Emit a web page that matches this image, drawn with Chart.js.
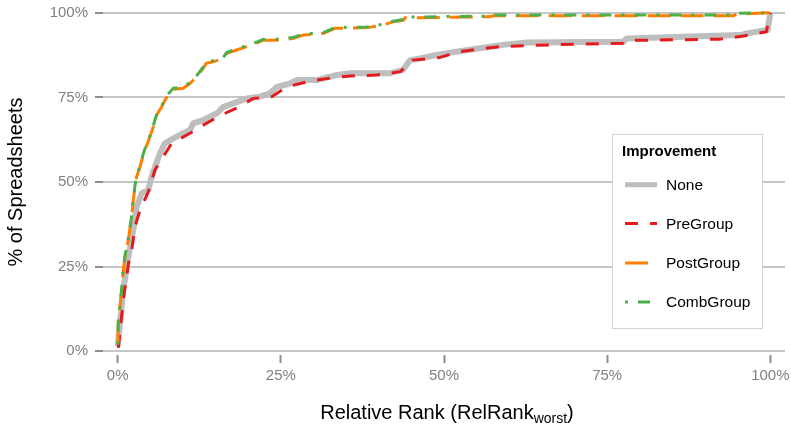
<!DOCTYPE html>
<html><head><meta charset="utf-8">
<script src="https://cdn.jsdelivr.net/npm/chart.js@4.4.1/dist/chart.umd.min.js"></script>
<style>html,body{margin:0;padding:0;background:#fff;}canvas{display:block;}</style>
</head><body>
<canvas id="c" width="791" height="425"></canvas>
<script>
// ---- data (x = relative rank %, y = % of spreadsheets) ----
const seriesNames = ['None', 'PreGroup', 'PostGroup', 'CombGroup'];
const xTicks = [0, 25, 50, 75, 100];
const yTicks = [0, 25, 50, 75, 100];

const noneX = [0, 0.86, 1.62, 2.39, 2.91, 3.68, 4.69, 5.21, 5.72, 6.48, 7.25, 9.04, 11.08, 11.58, 13.1, 15.2, 16.2, 17.7, 19.8, 21.8, 23.3, 24.4, 26.4, 27.4, 30.5, 33.6, 35.6, 41.7, 43.7, 44.8, 46.3, 48.9, 51.9, 55.5, 59.0, 62.7, 77.5, 78.0, 95.4, 96.4, 99.6, 100];
const noneY = [1.4, 18.1, 27.9, 35.8, 42.7, 46.7, 47.6, 51.6, 54.5, 58.5, 61.5, 63.4, 65.4, 67.3, 68.3, 70.3, 72.2, 73.2, 74.7, 75.2, 76.2, 78.1, 79.1, 80.1, 80.1, 81.6, 82.1, 82.1, 83.1, 86.0, 86.5, 87.5, 88.5, 89.5, 90.5, 91.2, 91.4, 92.4, 93.4, 93.9, 94.9, 100];

const preX = [0.1, 0.9, 1.7, 2.15, 2.65, 3.42, 4.69, 5.72, 6.99, 8.27, 11.08, 13.1, 15.9, 18.2, 20.8, 23.6, 25.9, 29.5, 33.3, 35.6, 39.7, 43.3, 45.2, 49.4, 52.4, 58.6, 62.7, 69.8, 77.4, 78.0, 92.3, 95.9, 99.4, 100];
const preY = [1.0, 16.0, 26.5, 29.9, 36.8, 41.7, 47.1, 53.6, 57.5, 61.4, 64.4, 66.8, 69.8, 71.8, 74.7, 75.2, 78.1, 79.8, 80.9, 81.3, 81.6, 82.6, 86.0, 86.8, 88.5, 90.0, 90.3, 90.7, 91.0, 91.8, 92.2, 93.1, 94.4, 100];

const postX = [0.05, 0.09, 0.61, 0.86, 1.12, 1.62, 2.15, 2.39, 2.65, 2.91, 3.42, 3.92, 4.18, 4.95, 5.46, 5.98, 6.74, 7.25, 7.75, 8.52, 10.05, 11.08, 12.1, 13.1, 13.6, 14.6, 16.2, 16.7, 18.2, 19.8, 21.3, 22.3, 23.8, 25.4, 26.9, 28.4, 31.5, 33.3, 38.2, 40.7, 42.2, 43.8, 44.0, 57.0, 57.6, 94.3, 94.9, 100];
const postY = [2.4, 8.3, 18.1, 24.0, 27.9, 32.9, 39.8, 44.7, 48.6, 51.6, 54.5, 58.0, 59.5, 63.4, 66.3, 69.8, 72.2, 74.2, 75.7, 77.4, 77.7, 79.1, 81.1, 83.6, 85.1, 85.5, 86.5, 88.0, 89.0, 90.0, 91.0, 91.9, 91.9, 92.0, 92.4, 93.4, 93.9, 95.4, 95.6, 96.4, 97.3, 97.8, 98.5, 98.8, 99.1, 99.1, 99.6, 100];

const combX = [0.05, 0.09, 0.61, 0.86, 1.12, 1.62, 2.15, 2.39, 2.65, 2.91, 3.42, 3.92, 4.18, 4.95, 5.46, 5.98, 6.74, 7.25, 7.75, 8.52, 10.05, 11.08, 12.1, 13.1, 13.6, 14.6, 16.2, 16.7, 18.2, 19.8, 21.3, 22.3, 23.8, 25.4, 26.9, 28.4, 31.5, 33.3, 38.2, 40.7, 42.2, 43.8, 44.0, 56.8, 57.4, 94.1, 94.7, 100];
const combY = [2.0, 8.6, 18.4, 24.3, 28.2, 33.2, 40.1, 45.0, 48.9, 51.9, 54.8, 58.3, 59.8, 63.7, 66.6, 70.1, 72.5, 74.5, 76.0, 77.7, 78.0, 79.4, 81.4, 83.9, 85.4, 85.8, 86.8, 88.3, 89.3, 90.3, 91.3, 92.1, 92.1, 92.3, 92.7, 93.7, 94.1, 95.6, 95.8, 96.6, 97.5, 98.0, 98.7, 99.0, 99.3, 99.3, 99.8, 100];

// ---- styling ----
const FONT = "'Liberation Sans', Arial, Helvetica, sans-serif";
const pts = (xs, ys) => xs.map((x, i) => ({x: x, y: ys[i]}));

const datasets = [
  {label: seriesNames[0], data: pts(noneX, noneY), borderColor: '#BEBEBE', borderWidth: 6, borderDash: [], order: 4, legendWidth: 5},
  {label: seriesNames[1], data: pts(preX, preY), borderColor: '#E41A1C', borderWidth: 3, borderDash: [13, 12], order: 3, legendWidth: 3},
  {label: seriesNames[2], data: pts(postX, postY), borderColor: '#FF7F00', borderWidth: 3, borderDash: [23, 10], order: 2, legendWidth: 3},
  {label: seriesNames[3], data: pts(combX, combY), borderColor: '#4DAF4A', borderWidth: 3, borderDash: [3, 10, 12, 10], order: 1, legendWidth: 3}
];
datasets.forEach(d => { d.fill = false; d.tension = 0; d.pointRadius = 0; d.borderCapStyle = 'butt'; d.borderJoinStyle = 'round'; });

const overlay = {
  id: 'overlay',
  afterDraw(chart) {
    const c = chart.ctx;
    const area = chart.chartArea;
    c.save();
    // x axis title with subscript
    const main = 'Relative Rank (RelRank', sub = 'worst', end = ')';
    c.font = '20px ' + FONT; const w1 = c.measureText(main).width; const w3 = c.measureText(end).width;
    c.font = '14px ' + FONT; const w2 = c.measureText(sub).width;
    const tot = w1 + w2 + w3;
    let x = (area.left + area.right) / 2 - tot / 2 + 3;
    const y = 419;
    c.fillStyle = '#000'; c.textAlign = 'left'; c.textBaseline = 'alphabetic';
    c.font = '20px ' + FONT; c.fillText(main, x, y); x += w1;
    c.font = '14px ' + FONT; c.fillText(sub, x, y + 4); x += w2;
    c.font = '20px ' + FONT; c.fillText(end, x, y);

    // legend box
    c.fillStyle = '#fff'; c.fillRect(612, 134, 150, 194);
    c.strokeStyle = '#D3D3D3'; c.lineWidth = 1; c.setLineDash([]);
    c.strokeRect(612.5, 134.5, 150, 194);
    c.fillStyle = '#000'; c.textBaseline = 'middle';
    c.font = 'bold 15px ' + FONT; c.fillText('Improvement', 622, 152);
    const rowY = [184.7, 223.5, 263, 302];
    chart.data.datasets.forEach((d, i) => {
      const yy = rowY[i];
      c.beginPath(); c.setLineDash(d.borderDash); c.lineDashOffset = 0;
      c.lineCap = 'butt'; c.strokeStyle = d.borderColor; c.lineWidth = d.legendWidth;
      c.moveTo(625, yy); c.lineTo(657, yy); c.stroke();
      c.setLineDash([]);
      c.fillStyle = '#000'; c.font = '15.5px ' + FONT;
      c.fillText(d.label, 666, yy + 1);
    });
    c.restore();
  }
};

new Chart(document.getElementById('c'), {
  type: 'line',
  data: {datasets: datasets},
  options: {
    responsive: false, animation: false, devicePixelRatio: 1, events: [],
    layout: {padding: {left: 0, right: 6, top: 9, bottom: 0}},
    plugins: {legend: {display: false}, tooltip: {enabled: false}},
    scales: {
      x: {
        type: 'linear', min: -2.25, max: 102.25,
        afterBuildTicks: s => { s.ticks = xTicks.map(v => ({value: v})); },
        ticks: {callback: v => v + '%', color: '#808080', font: {family: FONT, size: 15}, padding: 4, maxRotation: 0, autoSkip: false},
        grid: {drawOnChartArea: false, drawTicks: true, tickLength: 8, tickColor: '#8C8C8C', tickWidth: 2},
        border: {display: false},
        afterFit: s => { s.height = 70; s.paddingLeft = 0; s.paddingRight = 0; }
      },
      y: {
        type: 'linear', min: -1.1, max: 101.1,
        afterBuildTicks: s => { s.ticks = yTicks.map(v => ({value: v})); },
        ticks: {callback: v => v + '%', color: '#808080', font: {family: FONT, size: 15}, padding: 7, autoSkip: false},
        grid: {color: '#C6C6C6', lineWidth: 2, drawTicks: true, tickLength: 8, tickColor: '#8C8C8C', tickWidth: 2},
        border: {display: false},
        title: {display: true, text: '% of Spreadsheets', color: '#000', font: {family: FONT, size: 20}, padding: {top: 4, bottom: 0}},
        afterFit: s => { s.width = 103; s.paddingTop = 0; s.paddingBottom = 0; }
      }
    }
  },
  plugins: [overlay]
});
</script>
</body></html>
